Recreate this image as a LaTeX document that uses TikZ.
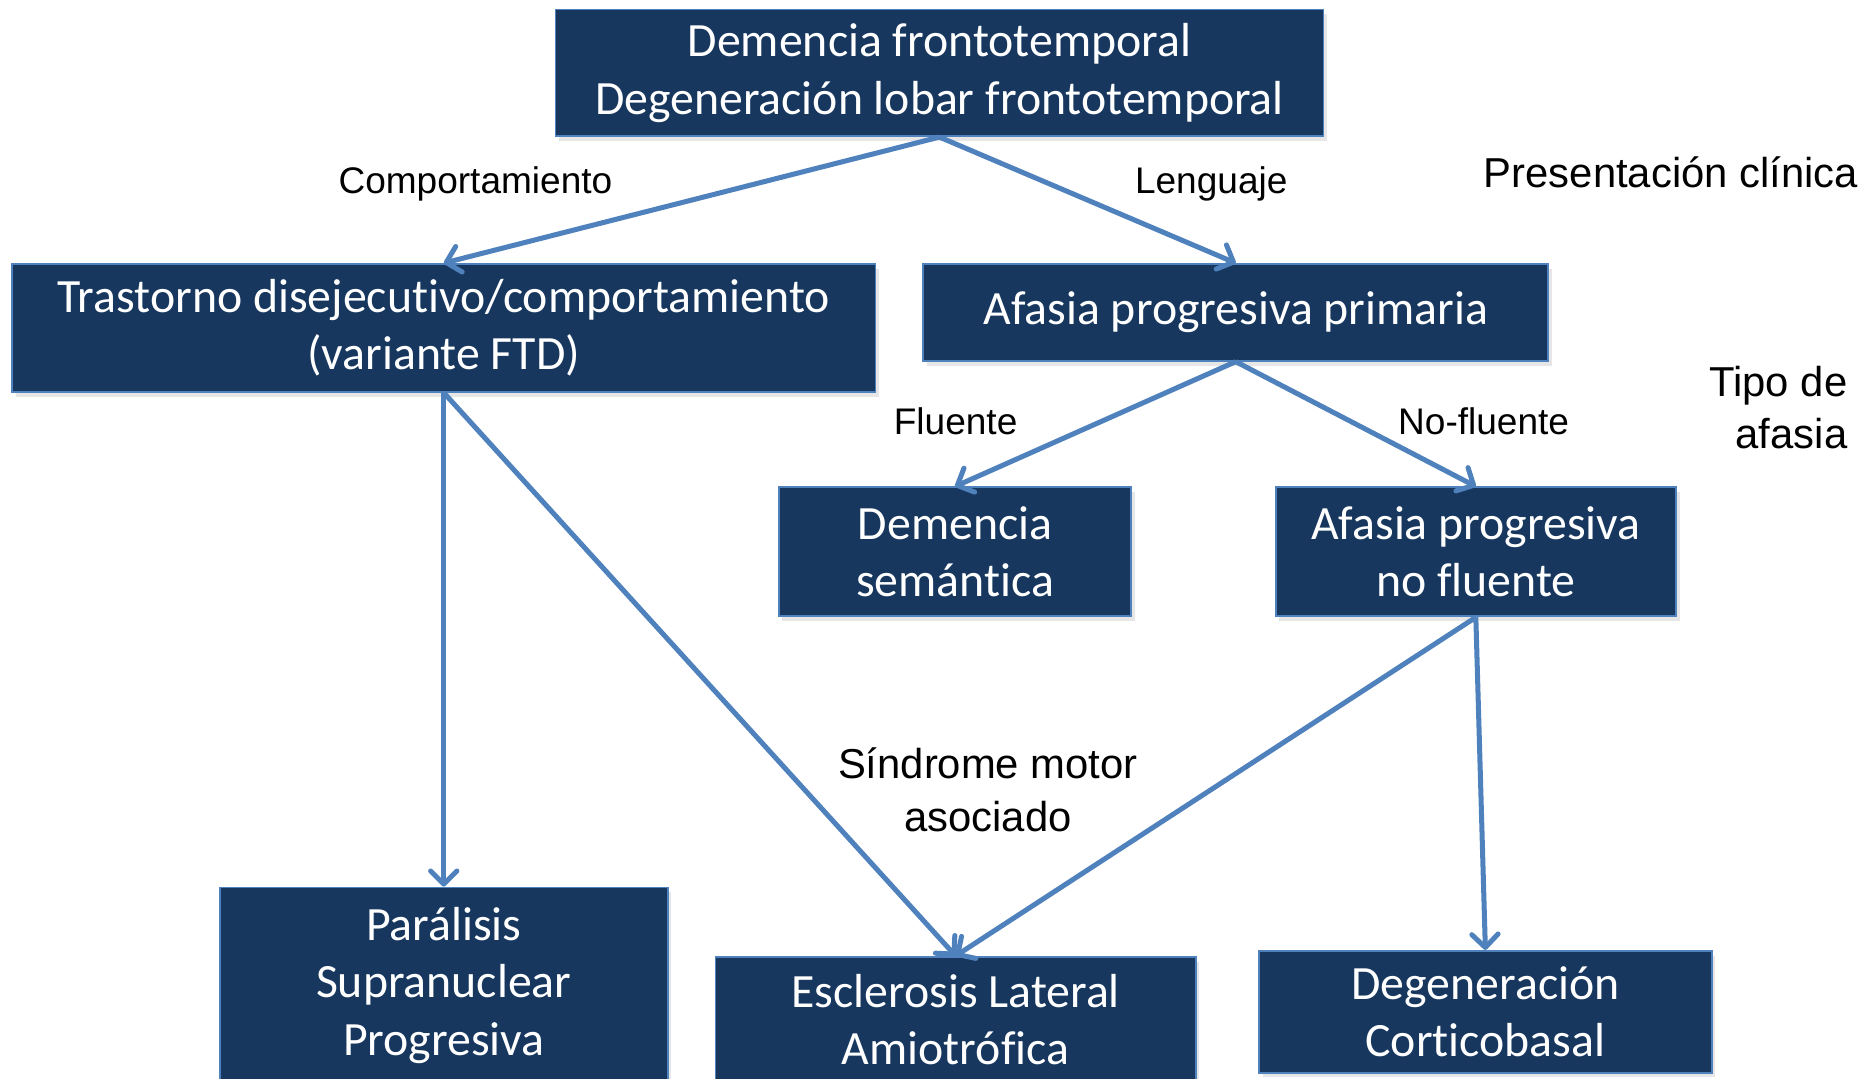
\documentclass[tikz,border=0pt]{standalone}
\usepackage{fontspec}
\usepackage{tikz}
\usetikzlibrary{arrows.meta,shadows}
\setmainfont{Carlito}[Ligatures=NoCommon]
\newfontfamily\arialfont{Liberation Sans}
\definecolor{navy}{RGB}{23,55,94}
\definecolor{steel}{RGB}{79,129,189}

\begin{document}
\begin{tikzpicture}[x=1pt,y=-1pt,
    box/.style={draw=steel, line width=1.5pt, fill=navy, text=white, inner sep=0pt,
        align=center, font=\fontsize{40}{48}\selectfont,
        drop shadow={shadow xshift=3pt, shadow yshift=-4pt, opacity=0.2}},
    link/.style={draw=steel, line width=4.2pt, -{Straight Barb[length=11pt,width=22pt,round]}},
    lbl/.style={font=\arialfont\fontsize{31}{37}\selectfont},
    lvl/.style={font=\arialfont\fontsize{35}{44}\selectfont}]
    \clip (0,0) rectangle (1568,903);

    \node[box, minimum width=643pt, minimum height=106pt] (DFT) at (786.5,61) {Demencia frontotemporal\\Degeneración lobar frontotemporal};
    \node[box, minimum width=723pt, minimum height=107pt] (Trast) at (371.5,274.5) {Trastorno disejecutivo/comportamiento\\(variante FTD)};
    \node[box, minimum width=523pt, minimum height=81pt] (APP) at (1034.5,261.5) {Afasia progresiva primaria};
    \node[box, minimum width=295pt, minimum height=108pt] (DSem) at (799.5,462) {Demencia\\semántica};
    \node[box, minimum width=335pt, minimum height=108pt] (APNF) at (1235.5,462) {Afasia progresiva\\no fluente};
    \node[box, minimum width=375pt, minimum height=164pt] (PSP) at (371.5,825) {Parálisis\\Supranuclear\\Progresiva};
    \node[box, minimum width=402pt, minimum height=105pt] (ELA) at (800,853.5) {Esclerosis Lateral\\Amiotrófica};
    \node[box, minimum width=379pt, minimum height=102pt] (DCB) at (1243.5,847) {Degeneración\\Corticobasal};

    \node[lbl] (LComp) at (398,154) {Comportamiento};
    \node[lbl] (LLeng) at (1014,154) {Lenguaje};
    \node[lbl] (LFlu) at (800,353) {Fluente};
    \node[lbl] (LNoFlu) at (1242,353) {No-fluente};
    \node[lvl, anchor=east] (LPres) at (1559,144) {Presentación clínica};
    \node[lvl, anchor=east, align=right] (LTipo) at (1550,341) {Tipo de\\afasia};
    \node[lvl, align=center] (LMotor) at (827,661) {Síndrome motor\\asociado};

    \draw[link] (DFT.south)--(Trast.north);
    \draw[link] (DFT.south)--(APP.north);
    \draw[link] (APP.south)--(DSem.north);
    \draw[link] (APP.south)--(APNF.north);
    \draw[link] (Trast.south)--(PSP.north);
    \draw[link] (Trast.south)--(ELA.north);
    \draw[link] (APNF.south)--(ELA.north);
    \draw[link] (APNF.south)--(DCB.north);
\end{tikzpicture}
\end{document}
